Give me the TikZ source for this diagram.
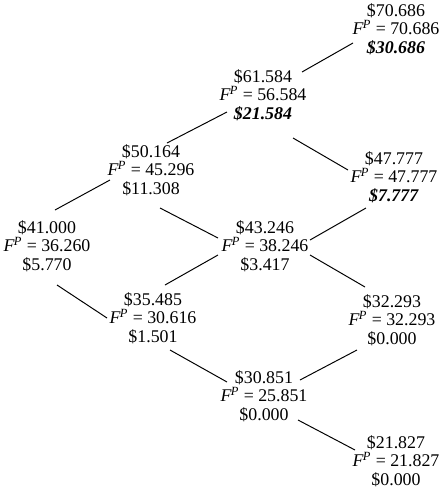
\documentclass[tikz,border=0pt]{standalone}
\usepackage{fontspec}
\setmainfont{Liberation Serif}
\usepackage{tikz}
\usetikzlibrary{positioning}
\tikzset{
  price/.style={align=center, inner sep=0pt, font=\fontsize{12.7}{13}\selectfont},
  branch/.style={line width=0.7pt, color=black}
}
\newcommand{\fwd}{\textit{F}\textsuperscript{\kern-0.5pt\textit{P}}}
\newcommand{\exval}[1]{\textbf{\textit{\$#1}}}

\begin{document}
\begin{tikzpicture}[x=0.025cm, y=-0.025cm]
  \useasboundingbox (0,0) rectangle (445,488);

  % Price nodes, one column per period
  \node[price] (n0)   at (47,246)  {\$41.000\\\fwd{} = 36.260\\\$5.770};
  \node[price] (n1u)  at (151,170) {\$50.164\\\fwd{} = 45.296\\\$11.308};
  \node[price] (n1d)  at (153,318) {\$35.485\\\fwd{} = 30.616\\\$1.501};
  \node[price] (n2uu) at (263,95)  {\$61.584\\\fwd{} = 56.584\\\exval{21.584}};
  \node[price] (n2ud) at (265,246) {\$43.246\\\fwd{} = 38.246\\\$3.417};
  \node[price] (n2dd) at (264,396) {\$30.851\\\fwd{} = 25.851\\\$0.000};
  \node[price] (n3uuu) at (396,29) {\$70.686\\\fwd{} = 70.686\\\exval{30.686}};
  \node[price] (n3uud) at (394,177) {\$47.777\\\fwd{} = 47.777\\\exval{7.777}};
  \node[price] (n3udd) at (392,320) {\$32.293\\\fwd{} = 32.293\\\$0.000};
  \node[price] (n3ddd) at (396,461) {\$21.827\\\fwd{} = 21.827\\\$0.000};

  % Up moves
  \draw[branch] ([shift={(8,-36)}]n0.center) -- ([shift={(-41,10)}]n1u.center);
  \draw[branch] ([shift={(16,-27)}]n1u.center) -- ([shift={(-36,17)}]n2uu.center);
  \draw[branch] ([shift={(12,-33)}]n1d.center) -- ([shift={(-47,9)}]n2ud.center);
  \draw[branch] ([shift={(39,-23)}]n2uu.center) -- ([shift={(-43,14)}]n3uuu.center);
  \draw[branch] ([shift={(45,-6)}]n2ud.center) -- ([shift={(-28,31)}]n3uud.center);
  \draw[branch] ([shift={(36,-16)}]n2dd.center) -- ([shift={(-35,30)}]n3udd.center);

  % Down moves
  \draw[branch] ([shift={(10,39)}]n0.center) -- ([shift={(-46,0)}]n1d.center);
  \draw[branch] ([shift={(9,38)}]n1u.center) -- ([shift={(-47,-8)}]n2ud.center);
  \draw[branch] ([shift={(17,32)}]n1d.center) -- ([shift={(-37,-14)}]n2dd.center);
  \draw[branch] ([shift={(30,43)}]n2uu.center) -- ([shift={(-46,-7)}]n3uud.center);
  \draw[branch] ([shift={(45,9)}]n2ud.center) -- ([shift={(-27,-33)}]n3udd.center);
  \draw[branch] ([shift={(34,24)}]n2dd.center) -- ([shift={(-41,-11)}]n3ddd.center);
\end{tikzpicture}
\end{document}
